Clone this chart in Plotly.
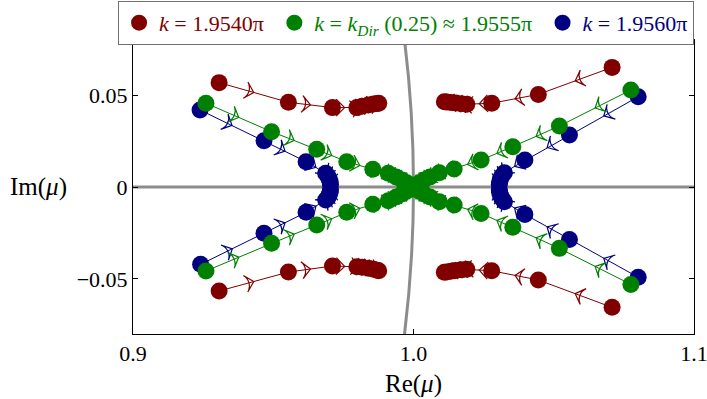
import plotly.graph_objects as go

RED = "#800000"
GREEN = "#008000"
BLUE = "#000080"
GRAY = "#8c8c8c"
FONT = "Liberation Serif"

# ---- k = 1.9540π (red) ----
red_ul_re = [0.9307, 0.9554, 0.9711, 0.9798, 0.9817, 0.9839, 0.9857, 0.9871, 0.9876]
red_ul_im = [0.0568, 0.0461, 0.0432, 0.0432, 0.0439, 0.0446, 0.0452, 0.0454, 0.0456]
red_ur_re = [1.0708, 1.0445, 1.0279, 1.0190, 1.0170, 1.0150, 1.0133, 1.0118, 1.0110]
red_ur_im = [0.0651, 0.0504, 0.0456, 0.0450, 0.0453, 0.0457, 0.0460, 0.0463, 0.0464]
red_ll_re = [0.9307, 0.9554, 0.9711, 0.9798, 0.9817, 0.9839, 0.9857, 0.9871, 0.9876]
red_ll_im = [-0.0566, -0.0463, -0.0430, -0.0434, -0.0437, -0.0442, -0.0448, -0.0453, -0.0456]
red_lr_re = [1.0708, 1.0445, 1.0279, 1.0190, 1.0170, 1.0150, 1.0133, 1.0118, 1.0110]
red_lr_im = [-0.0655, -0.0506, -0.0456, -0.0448, -0.0451, -0.0455, -0.0459, -0.0462, -0.0464]

# ---- k = k_Dir(0.25) ≈ 1.9555π (green) ----
green_ul_re = [0.9260, 0.9494, 0.9655, 0.9762, 0.9855, 0.9910, 0.9938, 0.9959, 0.9977, 0.9991, 1.0000]
green_ul_im = [0.0456, 0.0301, 0.0205, 0.0138, 0.0096, 0.0075, 0.0054, 0.0038, 0.0022, 0.0008, 0.0000]
green_ur_re = [1.0775, 1.0520, 1.0354, 1.0241, 1.0145, 1.0092, 1.0059, 1.0037, 1.0020, 1.0007, 1.0000]
green_ur_im = [0.0528, 0.0332, 0.0219, 0.0147, 0.0098, 0.0078, 0.0054, 0.0038, 0.0022, 0.0008, 0.0000]
green_ll_re = [0.9260, 0.9494, 0.9655, 0.9762, 0.9855, 0.9910, 0.9938, 0.9959, 0.9977, 0.9991, 1.0000]
green_ll_im = [-0.0457, -0.0306, -0.0207, -0.0138, -0.0094, -0.0075, -0.0054, -0.0038, -0.0022, -0.0008, 0.0000]
green_lr_re = [1.0775, 1.0520, 1.0354, 1.0241, 1.0145, 1.0092, 1.0059, 1.0037, 1.0020, 1.0007, 1.0000]
green_lr_im = [-0.0530, -0.0334, -0.0219, -0.0144, -0.0098, -0.0080, -0.0054, -0.0038, -0.0022, -0.0008, 0.0000]

# ---- k = 1.9560π (blue) ----
blue_ul_re = [0.9239, 0.9467, 0.9617, 0.9687, 0.9695, 0.9700, 0.9703, 0.9704]
blue_ul_im = [0.0419, 0.0252, 0.0138, 0.0075, 0.0058, 0.0042, 0.0027, 0.0014]
blue_ur_re = [1.0801, 1.0556, 1.0397, 1.0324, 1.0315, 1.0310, 1.0307, 1.0306]
blue_ur_im = [0.0491, 0.0283, 0.0147, 0.0078, 0.0060, 0.0044, 0.0029, 0.0015]
blue_ll_re = [0.9241, 0.9467, 0.9617, 0.9687, 0.9695, 0.9700, 0.9703, 0.9704]
blue_ll_im = [-0.0421, -0.0252, -0.0138, -0.0071, -0.0056, -0.0041, -0.0027, -0.0014]
blue_lr_re = [1.0801, 1.0556, 1.0397, 1.0324, 1.0315, 1.0310, 1.0307, 1.0306]
blue_lr_im = [-0.0491, -0.0286, -0.0149, -0.0080, -0.0061, -0.0045, -0.0029, -0.0015]

legend_labels = [
    '<span style="color:%s"><i>k</i> = 1.9540π&nbsp;</span>' % RED,
    '<span style="color:%s"><i>k</i> = <i>k</i><sub><i>Dir</i></sub> (0.25) ≈ 1.9555π&nbsp;</span>' % GREEN,
    '<span style="color:%s"><i>k</i> = 1.9560π</span>' % BLUE,
]

x_ticks = [0.9, 1.0, 1.1]
x_ticklabels = ["0.9", "1.0", "1.1"]
y_ticks = [-0.05, 0, 0.05]
y_ticklabels = ["−0.05", "0", "0.05"]


def branch_traces(re, im, color):
    # line through the points, with an arrow head at the middle of every segment
    xs, ys, syms, sizes = [], [], [], []
    for i in range(len(re)):
        if i > 0:
            xs.append((re[i - 1] + re[i]) / 2)
            ys.append((im[i - 1] + im[i]) / 2)
            syms.append("arrow-wide-open")
            sizes.append(12)
        xs.append(re[i])
        ys.append(im[i])
        syms.append("circle")
        sizes.append(0)
    line_tr = go.Scatter(
        x=xs, y=ys, mode="lines+markers", showlegend=False, hoverinfo="skip",
        line=dict(color=color, width=1),
        marker=dict(symbol=syms, size=sizes, color=color, opacity=1,
                    angleref="previous", line=dict(color=color, width=1.2)),
    )
    pts_tr = go.Scatter(
        x=re, y=im, mode="markers", showlegend=False, hoverinfo="skip",
        marker=dict(symbol="circle", size=17, color=color, opacity=1,
                    line=dict(width=0)),
    )
    return [line_tr, pts_tr]


fig = go.Figure()

# legend-only entries
for lab, col in zip(legend_labels, [RED, GREEN, BLUE]):
    fig.add_trace(go.Scatter(x=[None], y=[None], mode="markers", name=lab,
                             marker=dict(symbol="circle", size=17, color=col)))

for re, im in [(red_ul_re, red_ul_im), (red_ur_re, red_ur_im),
               (red_ll_re, red_ll_im), (red_lr_re, red_lr_im)]:
    for t in branch_traces(re, im, RED):
        fig.add_trace(t)
for re, im in [(blue_ul_re, blue_ul_im), (blue_ur_re, blue_ur_im),
               (blue_ll_re, blue_ll_im), (blue_lr_re, blue_lr_im)]:
    for t in branch_traces(re, im, BLUE):
        fig.add_trace(t)
for re, im in [(green_ul_re, green_ul_im), (green_ur_re, green_ur_im),
               (green_ll_re, green_ll_im), (green_lr_re, green_lr_im)]:
    for t in branch_traces(re, im, GREEN):
        fig.add_trace(t)

# unit circle and real axis (reference guides)
fig.add_shape(type="circle", xref="x", yref="y", x0=-1, x1=1, y0=-1, y1=1,
              line=dict(color=GRAY, width=3), layer="below")
fig.add_shape(type="line", xref="x", yref="y", x0=0.9, x1=1.1, y0=0, y1=0,
              line=dict(color=GRAY, width=3), layer="below")

axis_common = dict(showgrid=False, zeroline=False, showline=True, linecolor="black",
                   linewidth=1, mirror="ticks", ticks="inside", ticklen=5,
                   tickcolor="black", ticklabeloverflow="allow",
                   tickfont=dict(family=FONT, size=22, color="black"))

fig.update_xaxes(range=[0.9, 1.1], tickvals=x_ticks, ticktext=x_ticklabels, **axis_common)
fig.update_yaxes(range=[-0.08, 0.08], tickvals=y_ticks, ticktext=y_ticklabels, **axis_common)

fig.add_annotation(text="Im(<i>μ</i>)", xref="paper", yref="y", x=-0.168, y=0,
                   showarrow=False, font=dict(family=FONT, size=25, color="black"),
                   xanchor="center", yanchor="middle")
fig.add_annotation(text="Re(<i>μ</i>)", xref="x", yref="paper", x=1.0, y=-0.17,
                   showarrow=False, font=dict(family=FONT, size=25, color="black"),
                   xanchor="center", yanchor="middle")

fig.update_layout(
    width=707, height=399,
    margin=dict(l=133, r=13, t=40, b=65, autoexpand=False),
    plot_bgcolor="white", paper_bgcolor="white",
    legend=dict(orientation="h", x=-0.0266, xanchor="left", y=1.133, yanchor="top",
                bordercolor="#707070", borderwidth=1, bgcolor="white",
                font=dict(family=FONT, size=22, color="black")),
)

fig.write_html("out.html")
